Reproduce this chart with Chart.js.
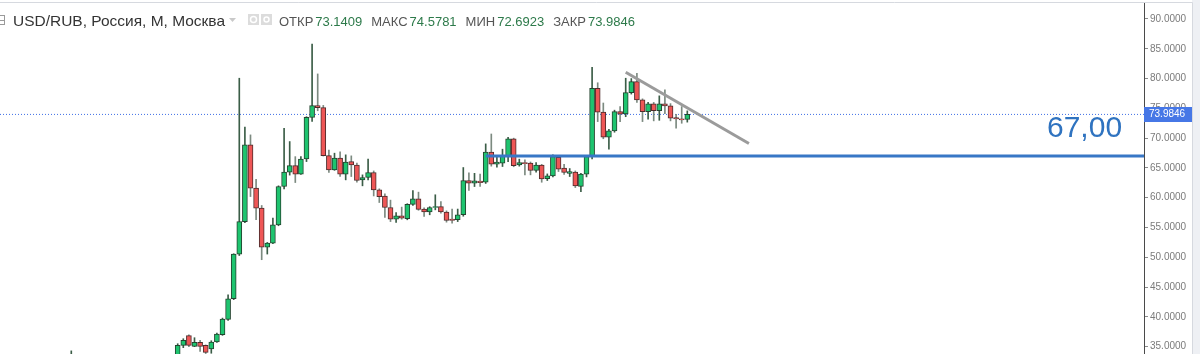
<!DOCTYPE html>
<html>
<head>
<meta charset="utf-8">
<title>USD/RUB, M</title>
<script src="https://cdn.jsdelivr.net/npm/chart.js@4/dist/chart.umd.min.js"></script>
<style>
  html, body { margin: 0; padding: 0; background: #fff; }
  #wrap { position: relative; width: 1200px; height: 354px; overflow: hidden; }
</style>
</head>
<body>
<div id="wrap"><canvas id="chart" width="1200" height="354"></canvas></div>
<script>
// Monthly USD/RUB candles (Москва)
const symbolTitle = 'USD/RUB, Россия, М, Москва';
const months = [
  '2012-06',
  '2014-01','2014-02','2014-03','2014-04','2014-05','2014-06','2014-07','2014-08','2014-09','2014-10','2014-11','2014-12',
  '2015-01','2015-02','2015-03','2015-04','2015-05','2015-06','2015-07','2015-08','2015-09','2015-10','2015-11','2015-12',
  '2016-01','2016-02','2016-03','2016-04','2016-05','2016-06','2016-07','2016-08','2016-09','2016-10','2016-11','2016-12',
  '2017-01','2017-02','2017-03','2017-04','2017-05','2017-06','2017-07','2017-08','2017-09','2017-10','2017-11','2017-12',
  '2018-01','2018-02','2018-03','2018-04','2018-05','2018-06','2018-07','2018-08','2018-09','2018-10','2018-11','2018-12',
  '2019-01','2019-02','2019-03','2019-04','2019-05','2019-06','2019-07','2019-08','2019-09','2019-10','2019-11','2019-12',
  '2020-01','2020-02','2020-03','2020-04','2020-05','2020-06','2020-07','2020-08','2020-09','2020-10','2020-11','2020-12',
  '2021-01','2021-02','2021-03','2021-04','2021-05','2021-06','2021-07','2021-08'
];
const openPrices = [
  31.4,
  33.0, 35.22, 36.85, 35.05, 35.72, 35.22, 34.62, 35.79, 37.0, 39.58, 43.05, 50.55,
  56.0, 68.87, 61.61, 58.26, 51.72, 52.39, 55.46, 61.89, 64.3, 65.4, 63.96, 66.5,
  73.5, 75.46, 75.13, 67.08, 64.68, 66.64, 63.96, 66.07, 65.5, 63.0, 63.4, 64.23,
  61.33, 60.3, 58.36, 56.4, 56.97, 56.5, 58.9, 59.8, 58.1, 57.6, 58.36, 58.5,
  57.6, 56.4, 56.3, 57.14, 62.89, 62.45, 62.8, 62.62, 67.65, 65.64, 65.8, 67.03,
  69.88, 65.5, 65.9, 65.8, 64.57, 65.5, 63.22, 63.67, 66.8, 64.96, 64.1, 64.3,
  61.9, 63.96, 66.92, 78.38, 74.36, 70.17, 71.22, 74.46, 74.07, 77.64, 79.5, 76.42,
  74.46, 75.75, 74.63, 75.75, 75.41, 73.46, 73.23, 73.1409
];
const highPrices = [
  34.3,
  35.5, 36.34, 37.0, 36.51, 36.06, 35.3, 36.0, 37.3, 39.8, 43.7, 50.6, 80.06,
  71.84, 70.55, 63.1, 58.7, 52.5, 56.6, 62.0, 71.67, 69.43, 66.9, 66.9, 73.6,
  85.8, 80.78, 75.5, 68.0, 67.48, 67.7, 67.2, 67.03, 65.8, 63.84, 66.5, 64.5,
  61.5, 60.66, 59.6, 57.52, 58.43, 59.0, 61.2, 60.94, 58.3, 58.5, 60.5, 59.37,
  57.8, 58.1, 58.1, 65.07, 64.2, 64.1, 63.96, 69.04, 70.7, 67.03, 68.15, 70.16,
  70.0, 66.48, 66.36, 66.0, 65.9, 65.6, 64.0, 67.2, 67.0, 65.6, 64.9, 64.5,
  64.1, 67.1, 81.9, 79.3, 75.9, 71.5, 74.7, 75.3, 80.06, 80.0, 80.9, 76.6,
  76.0, 76.0, 77.1, 78.1, 75.8, 74.0, 75.3, 74.5781
];
const lowPrices = [
  31.2,
  32.7, 34.84, 35.0, 35.0, 34.22, 33.85, 33.9, 35.7, 36.9, 39.4, 42.9, 50.3,
  55.8, 60.2, 56.3, 49.6, 50.55, 52.3, 55.3, 61.5, 63.8, 62.55, 63.9, 66.07,
  72.8, 74.6, 67.0, 64.23, 64.6, 63.56, 63.0, 63.56, 62.6, 62.0, 63.0, 60.3,
  59.2, 56.7, 56.0, 55.85, 56.4, 56.3, 58.7, 57.9, 56.85, 57.14, 57.97, 57.4,
  55.9, 55.74, 56.0, 56.9, 61.21, 61.88, 61.9, 62.4, 65.3, 65.13, 65.24, 66.07,
  65.2, 65.3, 63.84, 63.84, 64.3, 62.6, 62.89, 63.5, 64.4, 63.9, 63.56, 61.71,
  61.04, 63.5, 66.5, 72.78, 69.9, 68.15, 71.0, 72.78, 73.6, 77.4, 76.0, 72.78,
  73.18, 72.9, 73.0, 74.1, 72.9, 71.67, 72.5, 72.6923
];
const closePrices = [
  32.6,
  35.22, 36.07, 35.22, 35.72, 35.05, 34.05, 35.79, 37.13, 39.65, 43.05, 50.55, 56.0,
  68.87, 61.61, 58.26, 51.72, 52.39, 55.46, 61.89, 64.3, 65.4, 63.96, 66.5, 73.5,
  75.46, 75.13, 67.08, 64.68, 66.64, 63.96, 65.97, 65.5, 62.89, 63.4, 64.23, 61.33,
  60.2, 58.36, 56.4, 56.97, 56.58, 58.9, 59.8, 58.06, 57.6, 58.36, 58.5, 57.6,
  56.18, 56.18, 57.14, 62.89, 62.45, 62.84, 62.55, 67.65, 65.64, 65.97, 67.08, 69.88,
  65.4, 65.9, 65.7, 64.57, 65.5, 63.17, 63.67, 66.92, 64.8, 64.23, 64.4, 62.0,
  63.96, 66.92, 78.38, 74.36, 70.17, 71.22, 74.46, 74.02, 77.64, 79.5, 76.42, 74.46,
  75.75, 74.63, 75.75, 75.41, 73.35, 73.23, 73.07, 73.9846
];
const yTicks = [35, 40, 45, 50, 55, 60, 65, 70, 75, 80, 85, 90];

// Drawn support level and descending trend line
const supportLevel = 67.00;
const supportLabel = '67,00';
const supportFrom = '2018-08';
const trendMonths = ['2020-09', '2022-07'];
const trendValues = [81.06, 69.1];

const headerStats = [
  ['ОТКР', openPrices[openPrices.length - 1]],
  ['МАКС', highPrices[highPrices.length - 1]],
  ['МИН', lowPrices[lowPrices.length - 1]],
  ['ЗАКР', closePrices[closePrices.length - 1]]
];

// month label -> month number counted from Jan 2014
function monthPos(label) {
  const [y, m] = label.split('-').map(Number);
  return (y - 2014) * 12 + (m - 1);
}

const UP_FILL = '#1ec46f', DOWN_FILL = '#ee5656';
const UP_LINE = '#24442f', DOWN_LINE = '#4f2b2b';
const UP_WICK = '#3b5d47', DOWN_WICK = '#7c8a80';

const wickData = [], bodyData = [], bodyFill = [], bodyLine = [], wickColor = [];
months.forEach((mo, i) => {
  const o = openPrices[i], h = highPrices[i], l = lowPrices[i], c = closePrices[i];
  const up = c >= o;
  const x = monthPos(mo);
  wickData.push({ x, y: [l, h] });
  bodyData.push({ x, y: [Math.min(o, c), Math.max(o, c)] });
  bodyFill.push(up ? UP_FILL : DOWN_FILL);
  bodyLine.push(up ? UP_LINE : DOWN_LINE);
  wickColor.push(up ? UP_WICK : DOWN_WICK);
});

const X_MIN = -31.73, X_MAX = 172.55;
const lastClose = closePrices[closePrices.length - 1];

const decor = {
  id: 'decor',
  beforeDraw(chart) {
    const { ctx } = chart;
    ctx.save();
    ctx.fillStyle = '#ffffff';
    ctx.fillRect(0, 0, chart.width, chart.height);
    ctx.fillStyle = '#eef0f4';
    ctx.fillRect(1192, 0, chart.width - 1192, chart.height);
    ctx.strokeStyle = '#d6d9df';
    ctx.lineWidth = 1;
    ctx.beginPath();
    ctx.moveTo(0, 2.5); ctx.lineTo(1192.5, 2.5);
    ctx.moveTo(1192.5, 2.5); ctx.lineTo(1192.5, chart.height);
    ctx.stroke();
    ctx.restore();
  },
  afterDraw(chart) {
    const { ctx } = chart;
    const ys = chart.scales.y;
    ctx.save();

    // last price tag on the axis
    const py = Math.round(ys.getPixelForValue(lastClose));
    ctx.fillStyle = '#4677e6';
    ctx.fillRect(1144, py - 7, 48, 15);
    ctx.fillStyle = '#ffffff';
    ctx.font = '10px "Liberation Sans", Arial, sans-serif';
    ctx.textBaseline = 'middle';
    ctx.textAlign = 'left';
    ctx.fillText(lastClose.toFixed(4), 1149, py + 0.5);

    // level caption
    const ly = ys.getPixelForValue(supportLevel);
    ctx.fillStyle = '#2f73c0';
    ctx.font = '30px "Liberation Sans", Arial, sans-serif';
    ctx.textBaseline = 'alphabetic';
    ctx.fillText(supportLabel, 1047, ly - 19);

    // header line
    ctx.textBaseline = 'alphabetic';
    ctx.strokeStyle = '#9a9a9a';
    ctx.lineWidth = 1;
    ctx.strokeRect(-4.5, 15.5, 9, 9);
    ctx.beginPath(); ctx.moveTo(0, 20.5); ctx.lineTo(4, 20.5); ctx.stroke();

    ctx.font = '15px "Liberation Sans", Arial, sans-serif';
    ctx.fillStyle = '#333333';
    const tw = ctx.measureText(symbolTitle).width;
    ctx.save();
    ctx.translate(13, 25.5);
    ctx.scale(212 / tw, 1);
    ctx.fillText(symbolTitle, 0, 0);
    ctx.restore();

    ctx.fillStyle = '#c9c9c9';
    ctx.beginPath(); ctx.moveTo(229, 18); ctx.lineTo(236, 18); ctx.lineTo(232.5, 22); ctx.closePath(); ctx.fill();

    [248, 261].forEach((ix, k) => {
      ctx.fillStyle = '#dcdcdc';
      ctx.fillRect(ix, 14, 11, 11);
      ctx.strokeStyle = '#ffffff';
      ctx.lineWidth = 1.5;
      ctx.beginPath(); ctx.arc(ix + 5.5, 19.5, k ? 2.5 : 3, 0, Math.PI * 2); ctx.stroke();
    });

    ctx.font = '13px "Liberation Sans", Arial, sans-serif';
    let hx = 279;
    headerStats.forEach(([name, val]) => {
      ctx.fillStyle = '#555555';
      ctx.fillText(name, hx, 25.5);
      hx += ctx.measureText(name).width + 2;
      ctx.fillStyle = '#2d7a4a';
      const s = val.toFixed(4);
      ctx.fillText(s, hx, 25.5);
      hx += ctx.measureText(s).width + 9;
    });
    ctx.restore();
  }
};

new Chart(document.getElementById('chart'), {
  type: 'bar',
  data: {
    datasets: [
      {
        type: 'line',
        data: [{ x: X_MIN, y: lastClose }, { x: X_MAX, y: lastClose }],
        borderColor: '#3f6fe6',
        borderWidth: 1,
        borderDash: [1, 2],
        pointRadius: 0,
        order: 5
      },
      {
        type: 'bar',
        data: wickData,
        backgroundColor: wickColor,
        barThickness: 1,
        grouped: false,
        order: 4
      },
      {
        type: 'bar',
        data: bodyData,
        backgroundColor: bodyFill,
        borderColor: bodyLine,
        borderWidth: 1,
        borderSkipped: false,
        barThickness: 5,
        grouped: false,
        order: 3
      },
      {
        type: 'line',
        data: [{ x: monthPos(supportFrom), y: supportLevel }, { x: X_MAX, y: supportLevel }],
        borderColor: '#3877c6',
        borderWidth: 3,
        pointRadius: 0,
        order: 2
      },
      {
        type: 'line',
        data: trendMonths.map((m, i) => ({ x: monthPos(m), y: trendValues[i] })),
        borderColor: '#9b9b9b',
        borderWidth: 3,
        pointRadius: 0,
        order: 1
      }
    ]
  },
  options: {
    responsive: false,
    animation: false,
    layout: { padding: { top: 3, left: 0, right: 0, bottom: 0 } },
    plugins: { legend: { display: false }, tooltip: { enabled: false } },
    scales: {
      x: {
        type: 'linear',
        min: X_MIN,
        max: X_MAX,
        display: false,
        offset: false
      },
      y: {
        type: 'linear',
        position: 'right',
        min: 33.775,
        max: 92.685,
        afterBuildTicks: (s) => { s.ticks = yTicks.map(v => ({ value: v })); },
        afterFit: (s) => { s.width = 56; s.paddingTop = 0; s.paddingBottom = 0; },
        grid: { drawOnChartArea: false, drawTicks: true, tickLength: 4, color: '#8a8a8a' },
        border: { display: true, color: '#4a4a4a', width: 1 },
        ticks: {
          padding: 2,
          color: '#7b7b7b',
          font: { family: '"Liberation Sans", Arial, sans-serif', size: 10 },
          callback: (v) => Number(v).toFixed(4)
        }
      }
    }
  },
  plugins: [decor]
});
</script>
</body>
</html>
